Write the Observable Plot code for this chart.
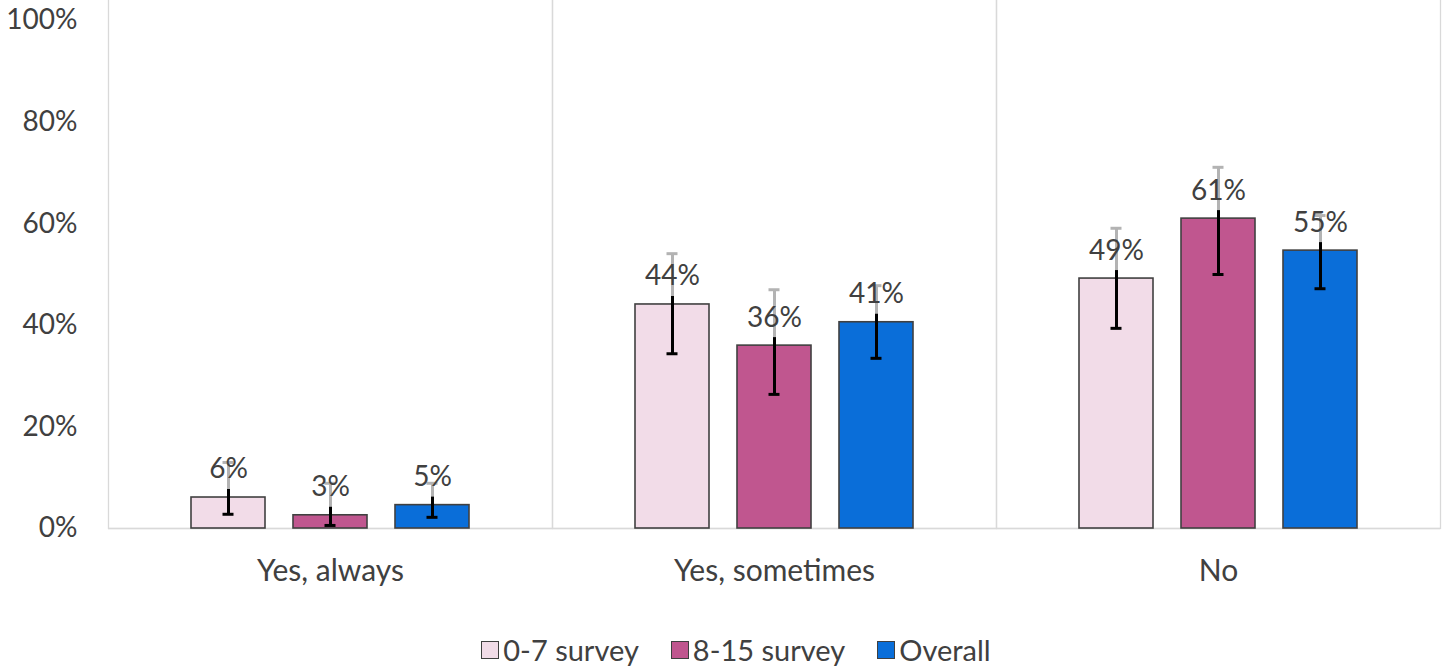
<!DOCTYPE html>
<html>
<head>
<meta charset="utf-8">
<script src="https://cdn.jsdelivr.net/npm/d3@7"></script>
<script src="https://cdn.jsdelivr.net/npm/@observablehq/plot@0.6"></script>
<style>
  html, body { margin: 0; padding: 0; background: #fff; }
  #chart { width: 1450px; font-family: Lato, "Open Sans", sans-serif; color: #404040; }
  .legend { display: flex; justify-content: center; align-items: center; gap: 32px; font-size: 29px; height: 36px; line-height: 36px; margin-top: 20px; padding-left: 22px; }
  .legend .item { display: flex; align-items: center; gap: 4px; }
  .legend .sw { width: 18px; height: 18px; border: 1.5px solid #404040; box-sizing: border-box; }
</style>
</head>
<body>
<div id="chart"></div>
<script>
const categories = ["Yes, always", "Yes, sometimes", "No"];
const series = ["0-7 survey", "8-15 survey", "Overall"];
const colors = ["#F2DCE8", "#C0568F", "#0A6ED9"];
// values per series across categories (fractions)
const survey07 = [0.061, 0.441, 0.492];
const survey815 = [0.026, 0.360, 0.610];
const overall = [0.046, 0.406, 0.547];
// error bar lows / highs
const survey07Low = [0.028, 0.344, 0.394];
const survey07High = [0.130, 0.541, 0.591];
const survey815Low = [0.006, 0.264, 0.500];
const survey815High = [0.089, 0.470, 0.711];
const overallLow = [0.022, 0.335, 0.472];
const overallHigh = [0.089, 0.478, 0.616];
const yTicks = [0, 0.2, 0.4, 0.6, 0.8, 1];

const vals = [survey07, survey815, overall];
const lows = [survey07Low, survey815Low, overallLow];
const highs = [survey07High, survey815High, overallHigh];
const rows = [];
categories.forEach((c, ci) => series.forEach((s, si) => rows.push({
  cat: c, series: s, v: vals[si][ci], lo: lows[si][ci], hi: highs[si][ci]
})));

const grid = "#d9d9d9";
const txt = "#404040";
const fs = 28;

const chart = Plot.plot({
  width: 1450,
  height: 612,
  marginLeft: 108,
  marginRight: 10,
  marginTop: 20,
  marginBottom: 84,
  style: { fontFamily: "Lato, 'Open Sans', sans-serif", fontSize: fs + "px", color: txt, background: "#fff" },
  fx: { domain: categories, padding: 0, label: null },
  x: { domain: series, paddingInner: 0.272, paddingOuter: 0.796, axis: null },
  y: { domain: [0, 1], label: null },
  color: { domain: series, range: colors },
  marks: [
    Plot.frame({ stroke: grid, strokeWidth: 1.3, insetTop: -2000 }),
    Plot.ruleY([0], { stroke: grid, strokeWidth: 1.5 }),
    Plot.axisY({ ticks: yTicks, tickFormat: d => Math.round(d * 100) + "%", tickSize: 0, tickPadding: 31, fontSize: fs, fill: txt, label: null }),
    Plot.axisFx({ anchor: "bottom", tickSize: 0, tickPadding: 31, fontSize: 30, fill: txt, label: null }),
    Plot.barY(rows, { fx: "cat", x: "series", y: "v", fill: "series", stroke: "#404040", strokeWidth: 1.6 }),
    Plot.ruleX(rows, { fx: "cat", x: "series", y1: "lo", y2: "hi", stroke: "#b3b3b3", strokeWidth: 3 }),
    Plot.tickY(rows, { fx: "cat", x: "series", y: "hi", stroke: "#b3b3b3", strokeWidth: 3, inset: 31.5 }),
    Plot.ruleX(rows, { fx: "cat", x: "series", y1: "v", y2: "lo", stroke: "#000", strokeWidth: 3, insetTop: -8 }),
    Plot.tickY(rows, { fx: "cat", x: "series", y: "lo", stroke: "#000", strokeWidth: 3, inset: 31.5 }),
    Plot.text(rows, { fx: "cat", x: "series", y: "v", text: d => Math.round(d.v * 100) + "%", dy: -28, fontSize: fs, fill: txt })
  ]
});

const root = document.getElementById("chart");
root.appendChild(chart);
const leg = document.createElement("div");
leg.className = "legend";
series.forEach((s, i) => {
  const it = document.createElement("div");
  it.className = "item";
  const sw = document.createElement("span");
  sw.className = "sw";
  sw.style.background = colors[i];
  const lb = document.createElement("span");
  lb.textContent = s;
  it.appendChild(sw); it.appendChild(lb);
  leg.appendChild(it);
});
root.appendChild(leg);
</script>
</body>
</html>
